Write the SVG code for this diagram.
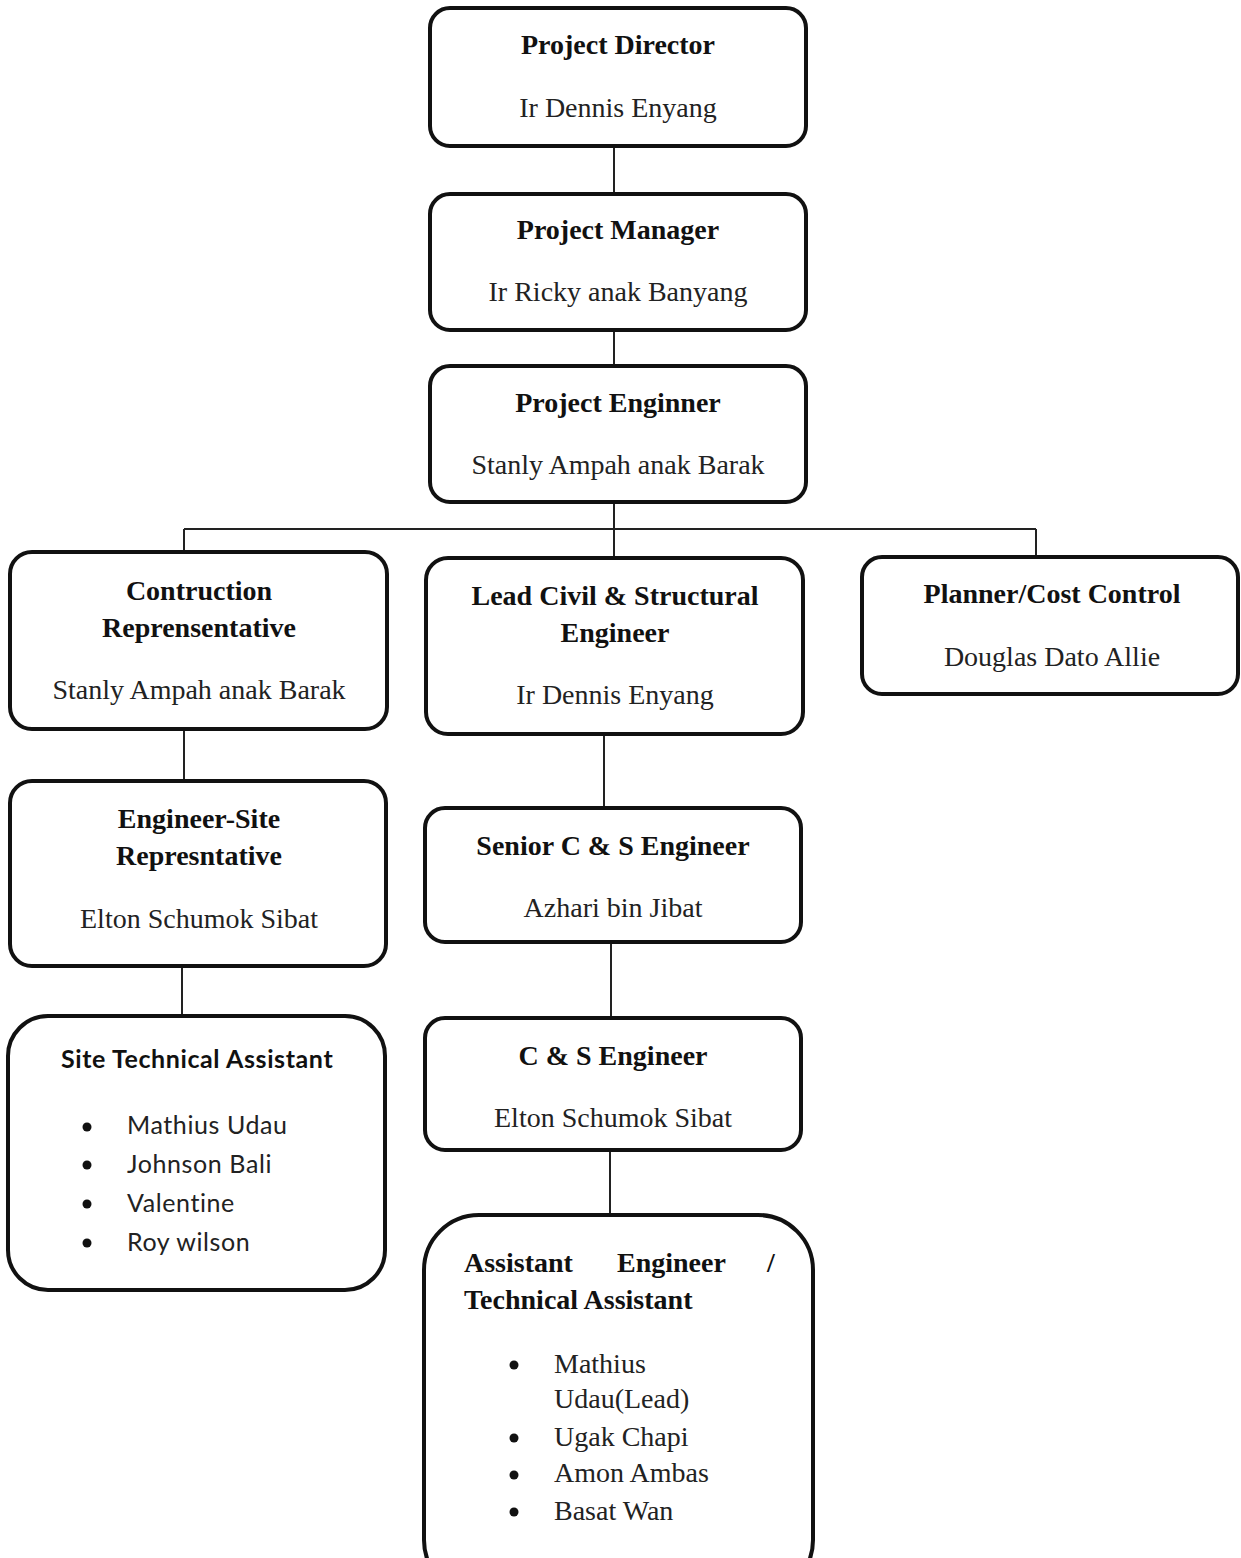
<svg xmlns="http://www.w3.org/2000/svg" width="1241" height="1558" viewBox="0 0 1241 1558">
<style>
.box{fill:#fff;stroke:#111;stroke-width:4}
.ln{stroke:#222;stroke-width:2;fill:none}
.t{font-family:"Liberation Serif","Times New Roman",serif;font-weight:bold;font-size:28px;fill:#111;text-anchor:middle}
.n{font-family:"Liberation Serif","Times New Roman",serif;font-size:28px;fill:#222;text-anchor:middle}
.tl{font-family:"Liberation Serif","Times New Roman",serif;font-weight:bold;font-size:28px;fill:#111}
.nl{font-family:"Liberation Serif","Times New Roman",serif;font-size:28px;fill:#222}
.st{font-family:Lato,"Open Sans",sans-serif;font-weight:bold;font-size:25px;letter-spacing:0.6px;fill:#111}
.sl{font-family:Lato,"Open Sans",sans-serif;font-size:25px;letter-spacing:0.6px;fill:#222}
.b{fill:#111}
</style>
<g id="connectors">
<line class="ln" x1="614" y1="146" x2="614" y2="194"/>
<line class="ln" x1="614" y1="330" x2="614" y2="366"/>
<line class="ln" x1="614" y1="502" x2="614" y2="558"/>
<line class="ln" x1="184" y1="529" x2="1036" y2="529"/>
<line class="ln" x1="184" y1="529" x2="184" y2="552"/>
<line class="ln" x1="1036" y1="529" x2="1036" y2="557"/>
<line class="ln" x1="184" y1="729" x2="184" y2="781"/>
<line class="ln" x1="604" y1="734" x2="604" y2="808"/>
<line class="ln" x1="182" y1="966" x2="182" y2="1016"/>
<line class="ln" x1="611" y1="942" x2="611" y2="1018"/>
<line class="ln" x1="610" y1="1150" x2="610" y2="1215"/>
</g>
<g id="project-director">
<rect class="box" x="430" y="8" width="376" height="138" rx="20"/>
<text class="t" x="618" y="54">Project Director</text>
<text class="n" x="618" y="117">Ir Dennis Enyang</text>
</g>
<g id="project-manager">
<rect class="box" x="430" y="194" width="376" height="136" rx="20"/>
<text class="t" x="618" y="239">Project Manager</text>
<text class="n" x="618" y="301">Ir Ricky anak Banyang</text>
</g>
<g id="project-engineer">
<rect class="box" x="430" y="366" width="376" height="136" rx="20"/>
<text class="t" x="618" y="412">Project Enginner</text>
<text class="n" x="618" y="474">Stanly Ampah anak Barak</text>
</g>
<g id="construction-rep">
<rect class="box" x="10" y="552" width="377" height="177" rx="22"/>
<text class="t" x="199" y="600">Contruction</text>
<text class="t" x="199" y="637">Reprensentative</text>
<text class="n" x="199" y="699">Stanly Ampah anak Barak</text>
</g>
<g id="lead-civil">
<rect class="box" x="426" y="558" width="377" height="176" rx="22"/>
<text class="t" x="615" y="605">Lead Civil &amp; Structural</text>
<text class="t" x="615" y="642">Engineer</text>
<text class="n" x="615" y="704">Ir Dennis Enyang</text>
</g>
<g id="planner">
<rect class="box" x="862" y="557" width="376" height="137" rx="20"/>
<text class="t" x="1052" y="603">Planner/Cost Control</text>
<text class="n" x="1052" y="666">Douglas Dato Allie</text>
</g>
<g id="engineer-site">
<rect class="box" x="10" y="781" width="376" height="185" rx="22"/>
<text class="t" x="199" y="828">Engineer-Site</text>
<text class="t" x="199" y="865">Represntative</text>
<text class="n" x="199" y="928">Elton Schumok Sibat</text>
</g>
<g id="senior-cs">
<rect class="box" x="425" y="808" width="376" height="134" rx="20"/>
<text class="t" x="613" y="855">Senior C &amp; S Engineer</text>
<text class="n" x="613" y="917">Azhari bin Jibat</text>
</g>
<g id="cs-engineer">
<rect class="box" x="425" y="1018" width="376" height="132" rx="20"/>
<text class="t" x="613" y="1065">C &amp; S Engineer</text>
<text class="n" x="613" y="1127">Elton Schumok Sibat</text>
</g>
<g id="site-tech">
<rect class="box" x="8" y="1016" width="377" height="274" rx="40"/>
<text class="st" x="61" y="1068">Site Technical Assistant</text>
<circle class="b" cx="87" cy="1127" r="4.5"/>
<circle class="b" cx="87" cy="1165" r="4.5"/>
<circle class="b" cx="87" cy="1204" r="4.5"/>
<circle class="b" cx="87" cy="1243" r="4.5"/>
<text class="sl" x="127" y="1134">Mathius Udau</text>
<text class="sl" x="127" y="1173">Johnson Bali</text>
<text class="sl" x="127" y="1212">Valentine</text>
<text class="sl" x="127" y="1251">Roy wilson</text>
</g>
<g id="assistant-engineer">
<rect class="box" x="424" y="1215" width="389" height="380" rx="55"/>
<text class="tl" x="464" y="1272">Assistant</text>
<text class="tl" x="617" y="1272">Engineer</text>
<text class="tl" x="767" y="1272">/</text>
<text class="tl" x="464" y="1309">Technical Assistant</text>
<circle class="b" cx="514" cy="1365" r="4.5"/>
<circle class="b" cx="514" cy="1438" r="4.5"/>
<circle class="b" cx="514" cy="1475" r="4.5"/>
<circle class="b" cx="514" cy="1512" r="4.5"/>
<text class="nl" x="554" y="1373">Mathius</text>
<text class="nl" x="554" y="1408">Udau(Lead)</text>
<text class="nl" x="554" y="1446">Ugak Chapi</text>
<text class="nl" x="554" y="1482">Amon Ambas</text>
<text class="nl" x="554" y="1520">Basat Wan</text>
</g>
</svg>
